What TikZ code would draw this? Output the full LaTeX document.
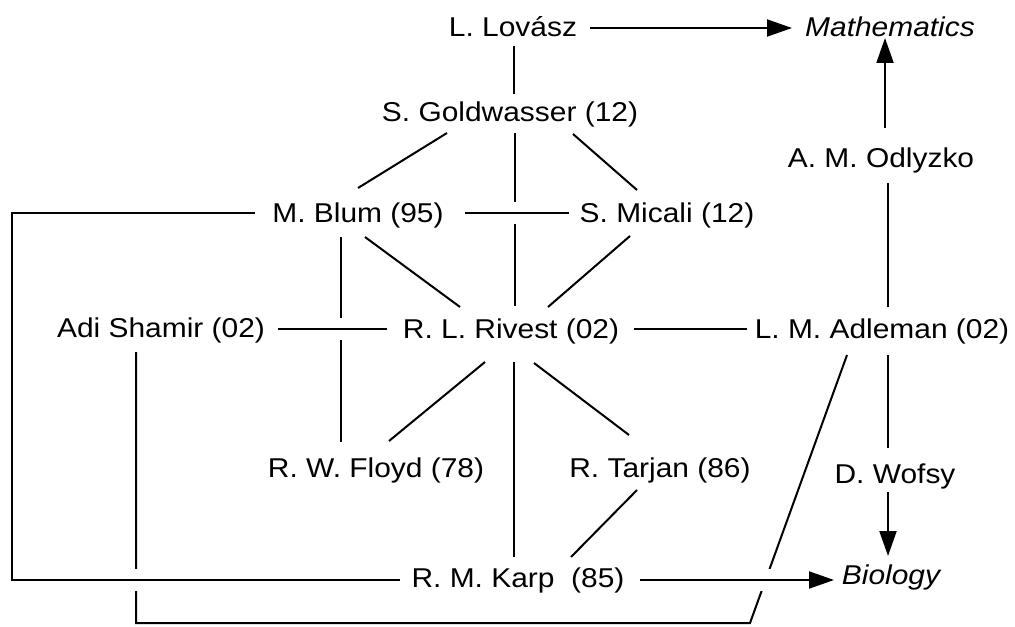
\documentclass[tikz,border=0pt]{standalone}
\usepackage{fontspec}
\setmainfont{Liberation Sans}[FakeStretch=1.1]
\usetikzlibrary{arrows.meta,calc}

\begin{document}
\begin{tikzpicture}[x=0.5pt,y=-0.5pt,
  person/.style={inner sep=0pt, text height=9.7pt, text depth=0pt,
                 font=\fontsize{13.6pt}{16pt}\selectfont},
  field/.style={person, font=\fontsize{13.6pt}{16pt}\selectfont\itshape},
  link/.style={line width=1pt},
  arr/.style={link, -{Triangle[length=12.5pt,width=8.5pt]}},
  bridge/.style={preaction={draw=white, line width=11pt, arrows=-}}]
\useasboundingbox (0,0) rectangle (1015,626);

% people and fields
\node[person] (lov)   at (513,27)  {L. Lovász};
\node[field]  (math)  at (890,27)  {Mathematics};
\node[person] (gold)  at (510,112) {S. Goldwasser (12)};
\node[person] (odl)   at (881,158) {A. M. Odlyzko};
\node[person] (blum)  at (358,213) {M. Blum (95)};
\node[person] (mic)   at (667,213) {S. Micali (12)};
\node[person] (sham)  at (161,328) {Adi Shamir (02)};
\node[person] (riv)   at (511,329) {R. L. Rivest (02)};
\node[person] (adl)   at (882,329) {L. M. Adleman (02)};
\node[person] (floyd) at (376,468) {R. W. Floyd (78)};
\node[person] (tarj)  at (660,468) {R. Tarjan (86)};
\node[person] (wof)   at (895,474) {D. Wofsy};
\node[person] (karp)  at (518,578) {R. M. Karp\ \ (85)};
\node[field]  (bio)   at (891,575) {Biology};

% rails and feet of the two long detours
\coordinate (westrail)  at (12,0);
\coordinate (southrail) at (0,623);
\coordinate (shamfoot)  at ($(sham)+(-25,24)$);
\coordinate (adlfoot)   at ($(adl)+(-35,26)$);
\coordinate (southend)  at ($(adl)+(-132,294)$);

% lines that pass under a crossing (drawn first)
\draw[link] ($(gold)+(5,21)$) -- ($(riv)+(4,-23)$);
\draw[link] ($(blum)+(-17,24)$) -- ($(floyd)+(-35,-26)$);
\draw[link, line join=miter] (shamfoot) -- (shamfoot |- southrail)
  -- (southend) -- (adlfoot);

% lines that cross over with a small gap
\draw[link, bridge] ($(blum)+(107,0)$) -- ($(mic)+(-98,0)$);
\draw[link, bridge] ($(sham)+(117,1)$) -- ($(riv)+(-124,0)$);
\draw[link, bridge, line join=miter] ($(blum)+(-103,0)$) -- (westrail |- blum)
  -- ($(westrail |- karp)+(0,2)$) -- ($(karp)+(-118,2)$);
\draw[arr, bridge] ($(karp)+(122,2)$) -- ($(bio)+(-57,5)$);

% remaining links
\draw[arr]  ($(lov)+(77,1)$) -- ($(math)+(-98,1)$);
\draw[link] ($(lov)+(1,19)$) -- ($(gold)+(4,-18)$);
\draw[link] ($(gold)+(-63,21)$) -- ($(blum)+(0,-25)$);
\draw[link] ($(gold)+(63,22)$) -- ($(mic)+(-30,-23)$);
\draw[link] ($(blum)+(7,24)$) -- ($(riv)+(-51,-22)$);
\draw[link] ($(mic)+(-37,23)$) -- ($(riv)+(37,-22)$);
\draw[link] ($(riv)+(123,0)$) -- ($(adl)+(-135,0)$);
\draw[link] ($(riv)+(-26,33)$) -- ($(floyd)+(13,-27)$);
\draw[link] ($(riv)+(3,33)$) -- ($(karp)+(-4,-21)$);
\draw[link] ($(riv)+(23,34)$) -- ($(tarj)+(-31,-33)$);
\draw[link] ($(tarj)+(-23,22)$) -- ($(karp)+(53,-21)$);
\draw[link] ($(adl)+(6,-22)$) -- ($(odl)+(7,25)$);
\draw[arr]  ($(odl)+(4,-30)$) -- ($(math)+(-5,11)$);
\draw[link] ($(adl)+(6,26)$) -- ($(wof)+(-7,-26)$);
\draw[arr]  ($(wof)+(-7,18)$) -- ($(bio)+(-3,-19)$);
\end{tikzpicture}
\end{document}
